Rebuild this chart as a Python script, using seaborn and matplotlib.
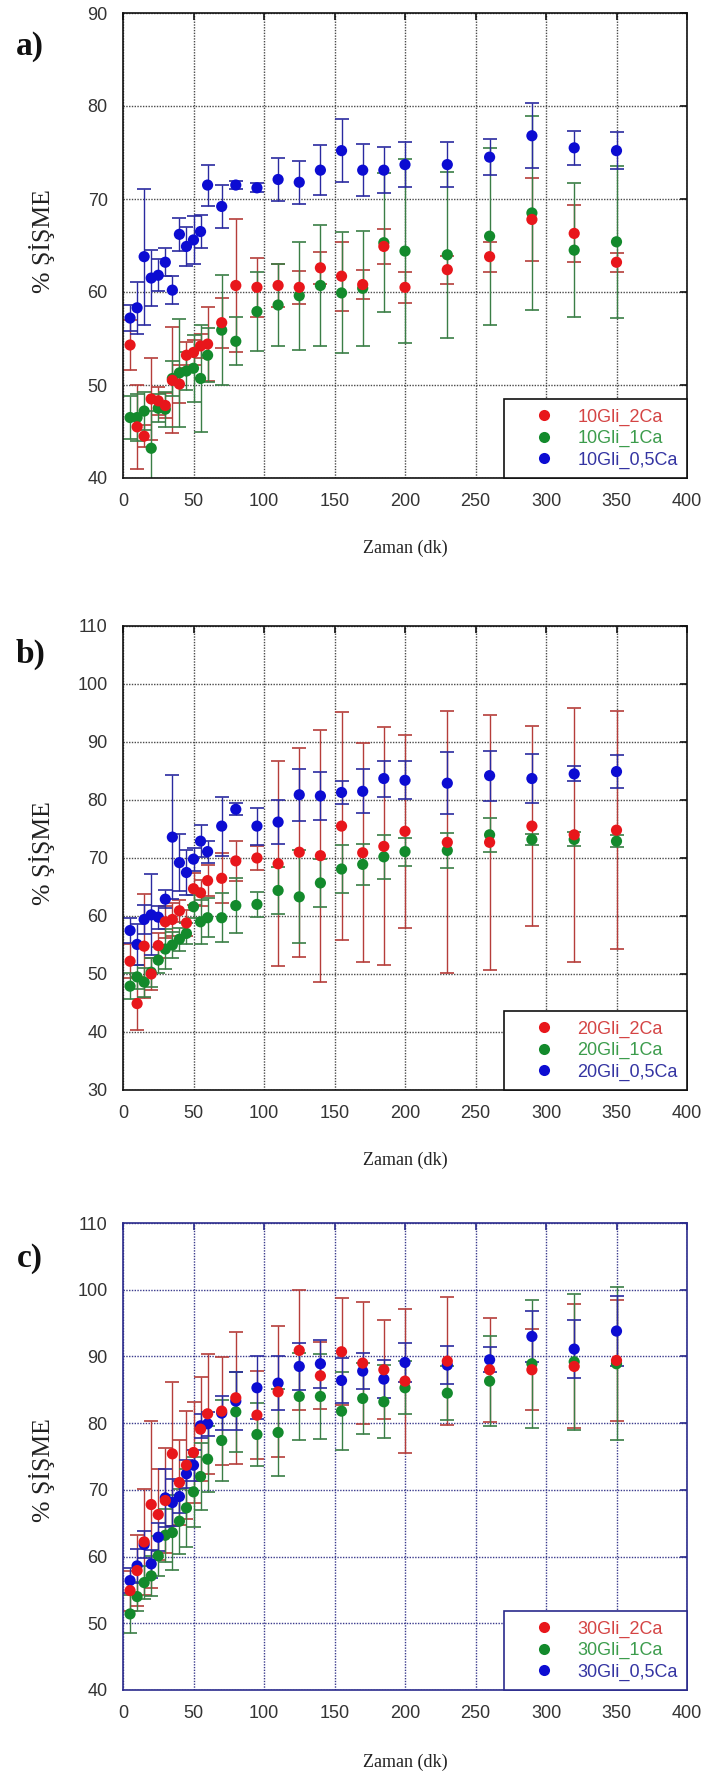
import numpy as np
import pandas as pd
import matplotlib
matplotlib.use("Agg")
import matplotlib.pyplot as plt
import seaborn as sns
from matplotlib.lines import Line2D

# ---------------- data ----------------
TIME = [5, 10, 15, 20, 25, 30, 35, 40, 45, 50, 55, 60, 70, 80, 95, 110, 125,
        140, 155, 170, 185, 200, 230, 260, 290, 320, 350]

X_TICKS = [0, 50, 100, 150, 200, 250, 300, 350, 400]

# panel a) 10Gli
a_2Ca = [54.3, 45.5, 44.5, 48.5, 48.3, 47.8, 50.5, 50.1, 53.2, 53.5, 54.2, 54.4, 56.7, 60.7,
         60.5, 60.7, 60.5, 62.6, 61.7, 60.8, 64.9, 60.5, 62.4, 63.8, 67.8, 66.3, 63.2]
a_2Ca_err = [2.7, 4.5, 1.2, 4.4, 1.5, 1.3, 5.7, 2.0, 1.4, 1.3, 1.3, 4.0, 2.7, 7.1,
             3.2, 2.3, 1.8, 1.7, 3.7, 1.6, 1.9, 1.7, 1.5, 1.6, 4.5, 3.1, 1.0]
a_1Ca = [46.5, 46.5, 47.2, 43.2, 47.5, 47.4, 50.7, 51.3, 51.5, 51.8, 50.7, 53.2, 55.9, 54.7,
         57.9, 58.6, 59.6, 60.7, 59.9, 60.4, 65.3, 64.4, 64.0, 66.0, 68.5, 64.5, 65.4]
a_1Ca_err = [2.3, 2.5, 2.0, 4.0, 1.5, 1.9, 1.9, 5.8, 2.0, 3.6, 5.7, 2.9, 5.9, 2.6,
             4.2, 4.4, 5.8, 6.5, 6.5, 6.2, 7.5, 9.9, 8.9, 9.5, 10.4, 7.2, 8.2]
a_05Ca = [57.2, 58.3, 63.8, 61.5, 61.8, 63.2, 60.2, 66.2, 64.9, 65.6, 66.5, 71.5, 69.2, 71.5,
          71.2, 72.1, 71.8, 73.1, 75.2, 73.1, 73.1, 73.7, 73.7, 74.5, 76.8, 75.5, 75.2]
a_05Ca_err = [1.4, 2.8, 7.3, 3.0, 1.7, 1.5, 1.5, 1.8, 2.1, 2.6, 1.8, 2.2, 2.3, 0.4,
              0.5, 2.3, 2.3, 2.7, 3.4, 2.8, 2.5, 2.4, 2.4, 1.9, 3.5, 1.8, 2.0]

# panel b) 20Gli
b_2Ca = [52.2, 44.9, 54.8, 50.0, 54.9, 59.0, 59.4, 60.9, 58.8, 64.7, 64.0, 66.1, 66.5, 69.5,
         70.0, 69.0, 71.0, 70.4, 75.5, 70.9, 72.0, 74.6, 72.7, 72.7, 75.5, 74.0, 74.8]
b_2Ca_err = [2.9, 4.6, 9.0, 2.7, 2.2, 2.8, 2.8, 1.9, 2.2, 2.8, 2.2, 2.7, 4.3, 3.5,
             2.1, 17.7, 18.0, 21.7, 19.7, 18.9, 20.5, 16.6, 22.6, 22.0, 17.2, 21.9, 20.5]
b_1Ca = [47.9, 49.5, 48.6, 50.3, 52.4, 54.3, 55.0, 56.0, 57.0, 61.6, 59.0, 59.7, 59.7, 61.8,
         62.0, 64.4, 63.3, 65.7, 68.1, 68.9, 70.2, 71.1, 71.3, 74.0, 73.2, 73.2, 72.9]
b_1Ca_err = [2.2, 2.0, 2.5, 2.5, 2.2, 3.5, 2.2, 2.0, 1.8, 2.0, 3.8, 3.4, 4.2, 4.8,
             2.1, 4.0, 8.0, 4.1, 4.1, 3.5, 3.8, 2.4, 3.0, 2.9, 1.0, 1.2, 1.0]
b_05Ca = [57.5, 55.1, 59.4, 60.2, 59.8, 62.9, 73.6, 69.2, 67.5, 69.8, 72.9, 71.1, 75.5, 78.4,
          75.5, 76.2, 80.9, 80.7, 81.3, 81.5, 83.7, 83.4, 82.9, 84.2, 83.7, 84.5, 84.9]
b_05Ca_err = [2.2, 3.5, 2.5, 7.0, 2.0, 1.5, 10.7, 4.9, 3.8, 2.0, 2.8, 1.9, 5.1, 1.0,
              3.2, 3.8, 4.5, 4.2, 2.0, 3.8, 3.1, 3.3, 5.3, 4.3, 4.3, 1.3, 2.9]

# panel c) 30Gli
c_2Ca = [54.9, 57.9, 62.2, 67.8, 66.3, 68.4, 75.4, 71.1, 73.7, 75.6, 79.1, 81.4, 81.8, 83.8,
         81.2, 84.7, 90.9, 87.1, 90.7, 89.0, 88.0, 86.3, 89.3, 88.0, 88.0, 88.5, 89.4]
c_2Ca_err = [3.0, 5.3, 7.9, 12.5, 6.8, 7.8, 10.8, 6.4, 8.1, 7.6, 7.8, 9.0, 8.1, 9.9,
             6.6, 9.8, 9.0, 5.0, 8.0, 9.1, 7.4, 10.8, 9.6, 7.8, 6.1, 9.3, 9.1]
c_1Ca = [51.4, 54.0, 56.1, 57.1, 60.1, 63.2, 63.6, 65.3, 67.3, 69.7, 72.0, 74.6, 77.4, 81.7,
         78.3, 78.6, 84.0, 84.0, 81.8, 83.7, 83.2, 85.3, 84.5, 86.3, 88.9, 89.2, 88.9]
c_1Ca_err = [2.8, 2.2, 2.5, 3.0, 3.0, 4.0, 5.6, 4.9, 5.8, 5.3, 5.0, 4.9, 6.0, 6.0,
             4.7, 6.5, 6.5, 6.4, 5.8, 5.3, 5.5, 4.0, 4.0, 6.7, 9.6, 10.2, 11.5]
c_05Ca = [56.4, 58.6, 61.8, 58.9, 62.9, 68.8, 68.1, 69.0, 72.4, 73.7, 79.6, 79.9, 81.5, 83.3,
          85.3, 86.0, 88.5, 88.9, 86.4, 87.8, 86.6, 89.1, 88.7, 89.5, 93.0, 91.1, 93.8]
c_05Ca_err = [1.9, 2.6, 2.0, 2.1, 2.1, 4.4, 3.5, 2.4, 2.1, 2.3, 1.8, 1.8, 2.5, 4.3,
              4.7, 4.1, 3.5, 3.6, 3.4, 2.7, 2.9, 2.9, 2.8, 1.9, 3.8, 4.4, 5.2]

SUFFIXES = ["_2Ca", "_1Ca", "_0,5Ca"]

# ---------------- style ----------------
sns.set_style("white")
plt.rcParams['font.family'] = ['Liberation Sans', 'DejaVu Sans']

MARKER_COL = {"_2Ca": "#e8161b", "_1Ca": "#138a2c", "_0,5Ca": "#0c0cd2"}
ERR_COL = {"_2Ca": "#b53d3a", "_1Ca": "#3a7e46", "_0,5Ca": "#2a2aa0"}
TEXT_COL = {"_2Ca": "#d44444", "_1Ca": "#3c9c4c", "_0,5Ca": "#3434a2"}

W, H = 705, 1773
fig = plt.figure(figsize=(W / 100, H / 100), dpi=100)

LEFT, RIGHT = 123, 687

panels = [
    dict(tag="a)", prefix="10Gli", ylim=(40, 90), ystep=10, top=13, bottom=478,
         data={"_2Ca": (a_2Ca, a_2Ca_err), "_1Ca": (a_1Ca, a_1Ca_err), "_0,5Ca": (a_05Ca, a_05Ca_err)},
         frame="#111111", grid="#4a4a4a", tagy=47, ylab_y=0.51, xlab_off=70),
    dict(tag="b)", prefix="20Gli", ylim=(30, 110), ystep=10, top=626, bottom=1090,
         data={"_2Ca": (b_2Ca, b_2Ca_err), "_1Ca": (b_1Ca, b_1Ca_err), "_0,5Ca": (b_05Ca, b_05Ca_err)},
         frame="#111111", grid="#4a4a4a", tagy=654, ylab_y=0.51, xlab_off=70),
    dict(tag="c)", prefix="30Gli", ylim=(40, 110), ystep=10, top=1223, bottom=1690,
         data={"_2Ca": (c_2Ca, c_2Ca_err), "_1Ca": (c_1Ca, c_1Ca_err), "_0,5Ca": (c_05Ca, c_05Ca_err)},
         frame="#2b2b8c", grid="#3a3a8c", tagy=1259, ylab_y=0.47, xlab_off=72),
]

for p in panels:
    h_px = p["bottom"] - p["top"]
    ax = fig.add_axes([LEFT / W, 1 - p["bottom"] / H, (RIGHT - LEFT) / W, h_px / H])

    # long-form table
    rows = []
    for suf in ["_1Ca", "_0,5Ca", "_2Ca"]:   # drawing order: red on top
        vals, errs = p["data"][suf]
        for t, v, e in zip(TIME, vals, errs):
            rows.append({"time": t, "value": v, "err": e, "series": p["prefix"] + suf, "suf": suf})
    df = pd.DataFrame(rows)

    # error bars
    for suf in ["_2Ca", "_1Ca", "_0,5Ca"]:
        d = df[df["suf"] == suf]
        ax.errorbar(d["time"], d["value"], yerr=d["err"], fmt="none",
                    ecolor=ERR_COL[suf], elinewidth=1.0, capsize=5, capthick=1.2, zorder=2)

    palette = {p["prefix"] + s: MARKER_COL[s] for s in SUFFIXES}
    sns.scatterplot(data=df, x="time", y="value", hue="series", palette=palette,
                    s=65, linewidth=0, legend=False, ax=ax, zorder=3)

    ax.set_xlim(0, 400)
    ax.set_ylim(*p["ylim"])
    ax.set_xticks(X_TICKS)
    ax.set_yticks(np.arange(p["ylim"][0], p["ylim"][1] + 1, p["ystep"]))

    ax.grid(True, color=p["grid"], linestyle=(0, (1, 1)), linewidth=1.0, zorder=0)
    ax.set_axisbelow(True)
    for sp in ax.spines.values():
        sp.set_color(p["frame"])
        sp.set_linewidth(1.2)
        sp.set_visible(True)
    ax.tick_params(axis="both", which="major", direction="in", length=5, width=1.2,
                   color=p["frame"], top=True, right=True, labelsize=13,
                   labelcolor="#333333", pad=11)

    ax.set_xlabel("Zaman (dk)", fontfamily="Liberation Serif", fontsize=13, color="#222222")
    ax.xaxis.label.set_va("center")
    ax.xaxis.set_label_coords(0.5, -p["xlab_off"] / h_px)
    ax.set_ylabel("% ŞİŞME", fontfamily="Liberation Serif", fontsize=18.5, color="#222222")
    ax.yaxis.label.set_va("center")
    ax.yaxis.set_label_coords((42 - LEFT) / (RIGHT - LEFT), p["ylab_y"])

    handles = [Line2D([], [], linestyle="none", marker="o", markersize=8,
                      markerfacecolor=MARKER_COL[s], markeredgewidth=0) for s in SUFFIXES]
    labels = [p["prefix"] + s for s in SUFFIXES]
    leg = ax.legend(handles, labels, loc="lower right", bbox_to_anchor=(1, 0),
                    borderaxespad=0, frameon=True, fancybox=False, framealpha=1,
                    edgecolor=p["frame"], fontsize=13, handlelength=3.5,
                    handletextpad=0.1, borderpad=0.5, labelspacing=0.25)
    leg.get_frame().set_linewidth(1.2)
    for txt, s in zip(leg.get_texts(), SUFFIXES):
        txt.set_color(TEXT_COL[s])

    fig.text(30 / W, 1 - p["tagy"] / H, p["tag"], fontfamily="Liberation Serif",
             fontweight="bold", fontsize=24, ha="center", va="center", color="#111111")

fig.savefig("out.png", dpi=100)
